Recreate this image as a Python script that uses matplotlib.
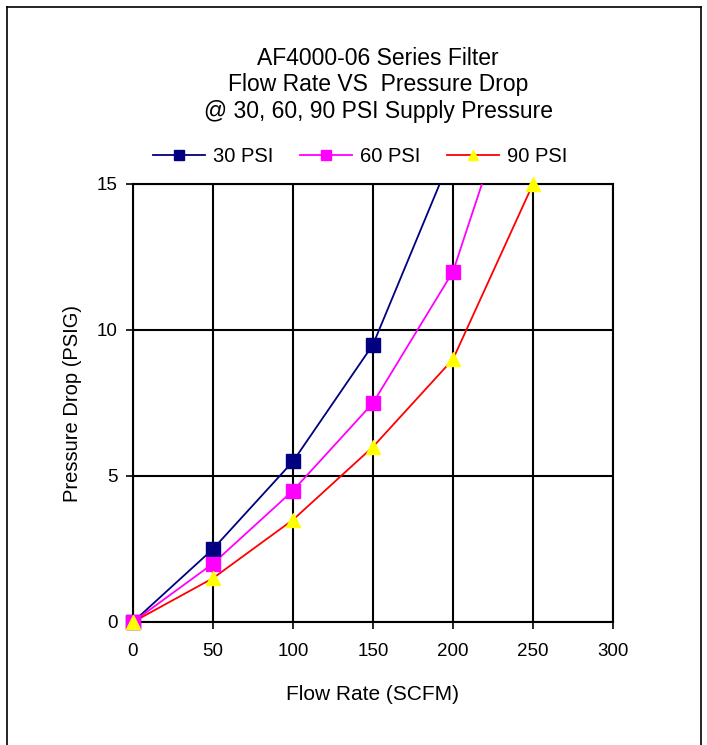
from matplotlib import pyplot as plt
from matplotlib.lines import Line2D

plt.rcParams['font.family'] = ['Liberation Sans', 'DejaVu Sans']

# Data
flow = [0, 50, 100, 150, 200, 250]
psi30 = [0, 2.5, 5.5, 9.5, 16.1, None]
psi60 = [0, 2.0, 4.5, 7.5, 12.0, 20.3]
psi90 = [0, 1.5, 3.5, 6.0, 9.0, 15.0]

series = [
    ("30 PSI", psi30, "#000080", "s", "#000080"),
    ("60 PSI", psi60, "#FF00FF", "s", "#FF00FF"),
    ("90 PSI", psi90, "#FF0000", "^", "#FFFF00"),
]

x_ticks = [0, 50, 100, 150, 200, 250, 300]
y_ticks = [0, 5, 10, 15]

fig = plt.figure(figsize=(7.07, 7.45), dpi=100)
ax = fig.add_axes([133 / 707, 1 - 622 / 745, 480 / 707, 438 / 745])

handles = []
for label, ys, color, marker, mfc in series:
    xs = [x for x, y in zip(flow, ys) if y is not None]
    yv = [y for y in ys if y is not None]
    ax.plot(xs, yv, color=color, lw=1.3, zorder=3)
    vis = [(x, y) for x, y in zip(xs, yv) if y <= 15]
    ax.plot([p[0] for p in vis], [p[1] for p in vis], ls="none", marker=marker,
            ms=10, mfc=mfc, mec=mfc, clip_on=False, zorder=4)
    handles.append(Line2D([], [], color=color, lw=1.3, marker=marker, ms=7,
                          mfc=mfc, mec=mfc, label=label))

ax.set_xlim(0, 300)
ax.set_ylim(0, 15)
ax.set_xticks(x_ticks)
ax.set_yticks(y_ticks)
ax.grid(True, color="black", lw=1.5)
ax.set_axisbelow(True)
for s in ax.spines.values():
    s.set_linewidth(1.5)
ax.tick_params(direction="out", length=5, width=1.2, labelsize=13.5, pad=10)
ax.tick_params(axis="y", pad=6)

ax.set_xlabel("Flow Rate (SCFM)", fontsize=15, labelpad=18)
ax.set_ylabel("Pressure Drop (PSIG)", fontsize=14.5, labelpad=11)

fig.text(378 / 707, 1 - 85 / 745,
         "AF4000-06 Series Filter\nFlow Rate VS  Pressure Drop\n@ 30, 60, 90 PSI Supply Pressure",
         ha="center", va="center", fontsize=16.5, linespacing=1.17)

fig.legend(handles=handles, loc="center", bbox_to_anchor=(360 / 707, 1 - 157 / 745),
           ncol=3, frameon=False, fontsize=14.5, handlelength=2.6, columnspacing=1.3,
           handletextpad=0.4)

# border around the chart area
for xs, ys in [([7, 7], [745, 7]), ([7, 701], [7, 7]), ([701, 701], [7, 745])]:
    fig.add_artist(Line2D([x / 707 for x in xs], [1 - y / 745 for y in ys],
                          color="black", lw=1.2))

fig.savefig("out.png", dpi=100)
